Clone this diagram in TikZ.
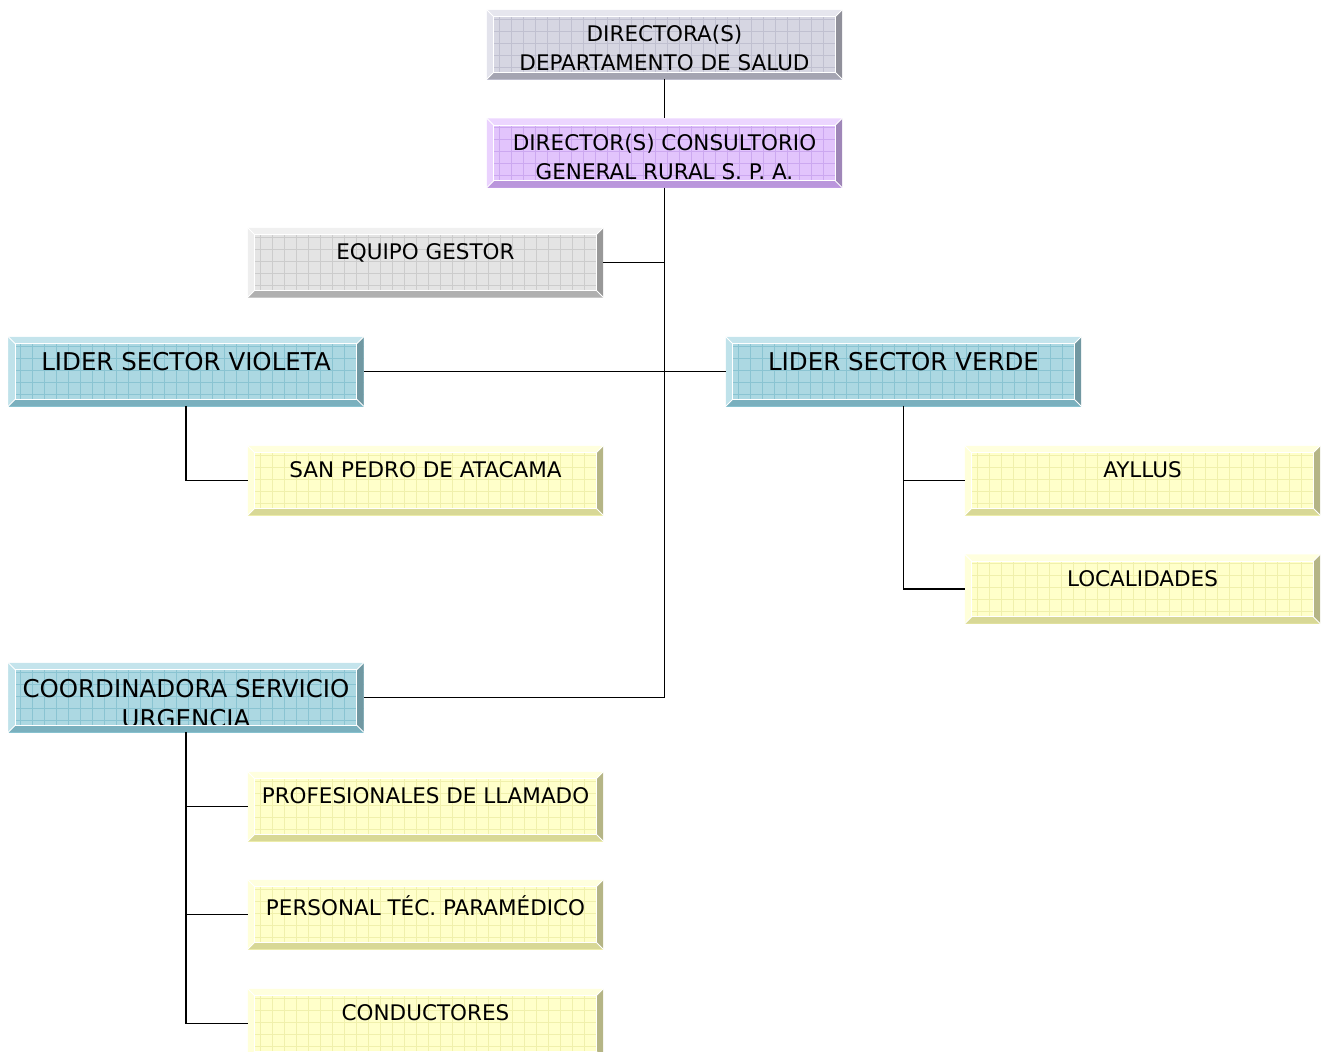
\documentclass[tikz,border=0pt]{standalone}
\usepackage{fontspec}
\setmainfont{DejaVu Sans}
\usetikzlibrary{positioning}

\definecolor{grisF}{RGB}{214,214,226}
\definecolor{grisG}{RGB}{192,192,208}
\definecolor{grisL}{RGB}{230,230,238}
\definecolor{grisD}{RGB}{165,165,178}
\definecolor{lilaF}{RGB}{226,196,252}
\definecolor{lilaG}{RGB}{204,168,240}
\definecolor{lilaL}{RGB}{236,214,255}
\definecolor{lilaD}{RGB}{186,150,220}
\definecolor{celF}{RGB}{172,216,226}
\definecolor{celG}{RGB}{138,196,210}
\definecolor{celL}{RGB}{196,228,236}
\definecolor{celD}{RGB}{122,176,190}
\definecolor{amaF}{RGB}{255,255,202}
\definecolor{amaG}{RGB}{240,240,172}
\definecolor{amaL}{RGB}{255,255,222}
\definecolor{amaD}{RGB}{216,216,150}
\definecolor{cenF}{RGB}{228,228,228}
\definecolor{cenG}{RGB}{204,204,204}
\definecolor{cenL}{RGB}{240,240,240}
\definecolor{cenD}{RGB}{176,176,176}

\tikzset{
  caja/.style={minimum width=355pt, minimum height=69pt, inner sep=0pt,
    fill=#1F, path picture={
      \foreach \k in {0,...,30}
        \draw[#1G, line width=0.7pt]
          ([xshift=\k*12pt]path picture bounding box.south west) --
          ([xshift=\k*12pt]path picture bounding box.north west);
      \foreach \k in {0,...,6}
        \draw[#1G, line width=0.7pt]
          ([yshift=\k*12pt]path picture bounding box.south west) --
          ([yshift=\k*12pt]path picture bounding box.south east);
    }},
  texto/.style={inner sep=0pt, align=center, font=\fontsize{21.5}{29}\selectfont},
  texto grande/.style={texto, font=\fontsize{24.5}{30}\selectfont},
  linea/.style={line width=1.8pt}
}

% bevelled frame drawn on top of a box
\newcommand{\bisel}[2]{%
  \fill[#2L] (#1.north west) -- (#1.north east) -- ([shift={(-7,7)}]#1.north east) -- ([shift={(7,7)}]#1.north west) -- cycle;
  \fill[#2L!80!#2F] (#1.north west) -- ([shift={(7,7)}]#1.north west) -- ([shift={(7,-7)}]#1.south west) -- (#1.south west) -- cycle;
  \fill[#2D] (#1.south west) -- ([shift={(7,-7)}]#1.south west) -- ([shift={(-7,-7)}]#1.south east) -- (#1.south east) -- cycle;
  \fill[#2D!80!black!90] (#1.north east) -- (#1.south east) -- ([shift={(-7,-7)}]#1.south east) -- ([shift={(-7,7)}]#1.north east) -- cycle;
  \draw[white, line width=1.2pt] ([shift={(7,7)}]#1.north west) -- ([shift={(-7,7)}]#1.north east) -- ([shift={(-7,-7)}]#1.south east) -- ([shift={(7,-7)}]#1.south west) -- cycle;
  \draw[white, line width=1pt] (#1.north west) -- ([shift={(7,7)}]#1.north west)
    (#1.north east) -- ([shift={(-7,7)}]#1.north east)
    (#1.south west) -- ([shift={(7,-7)}]#1.south west)
    (#1.south east) -- ([shift={(-7,-7)}]#1.south east);
}

\begin{document}
\begin{tikzpicture}[x=1pt, y=-1pt]
\useasboundingbox (0,0) rectangle (1326,1052);
\clip (0,0) rectangle (1326,1052);

% boxes
\node[caja=gris] (dir)   at (664.5,44.5)  {};
\node[caja=lila] (cons)  at (664.5,153)   {};
\node[caja=cen]  (gest)  at (425.5,262.5) {};
\node[caja=cel]  (viol)  at (186,371.5)   {};
\node[caja=cel]  (verde) at (903.5,371.5) {};
\node[caja=ama]  (spa)   at (425.5,480.5) {};
\node[caja=ama]  (ayl)   at (1142.5,480.5) {};
\node[caja=ama]  (loc)   at (1142.5,589)  {};
\node[caja=cel]  (urg)   at (186,697.5)   {};
\node[caja=ama]  (prof)  at (425.5,806.5) {};
\node[caja=ama]  (pers)  at (425.5,914.5) {};
\node[caja=ama]  (cond)  at (425.5,1023.5) {};

% texts
\node[texto, below=15pt of dir.north]   (dir-t)   {DIRECTORA(S)\\DEPARTAMENTO DE SALUD};
\node[texto, below=16pt of cons.north]  (cons-t)  {DIRECTOR(S) CONSULTORIO\\GENERAL RURAL S. P. A.};
\node[texto, below=16pt of gest.north]  (gest-t)  {EQUIPO GESTOR};
\node[texto grande, below=15pt of viol.north]  (viol-t)  {LIDER SECTOR VIOLETA};
\node[texto grande, below=15pt of verde.north] (verde-t) {LIDER SECTOR VERDE};
\node[texto, below=16pt of spa.north]   (spa-t)   {SAN PEDRO DE ATACAMA};
\node[texto, below=16pt of ayl.north]   (ayl-t)   {AYLLUS};
\node[texto, below=16pt of loc.north]   (loc-t)   {LOCALIDADES};
\node[texto grande, below=16pt of urg.north]   (urg-t)   {COORDINADORA SERVICIO\\URGENCIA};
\node[texto, below=16pt of prof.north]  (prof-t)  {PROFESIONALES DE LLAMADO};
\node[texto, below=16pt of pers.north]  (pers-t)  {PERSONAL TÉC. PARAMÉDICO};
\node[texto, below=16pt of cond.north]  (cond-t)  {CONDUCTORES};

% frames
\foreach \n/\c in {dir/gris, cons/lila, gest/cen, viol/cel, verde/cel, spa/ama,
                   ayl/ama, loc/ama, urg/cel, prof/ama, pers/ama, cond/ama}
  \bisel{\n}{\c};

% connectors
\draw[linea] (dir.south) -- (cons.north);
\draw[linea] (cons.south) |- (urg.east);
\draw[linea] (gest.east) -- (gest.east -| cons.south);
\draw[linea] (viol.east) -- (verde.west);
\draw[linea] (viol.south) |- (spa.west);
\foreach \h in {ayl, loc}
  \draw[linea] (verde.south) |- (\h.west);
\foreach \h in {prof, pers, cond}
  \draw[linea] (urg.south) |- (\h.west);

\end{tikzpicture}
\end{document}
